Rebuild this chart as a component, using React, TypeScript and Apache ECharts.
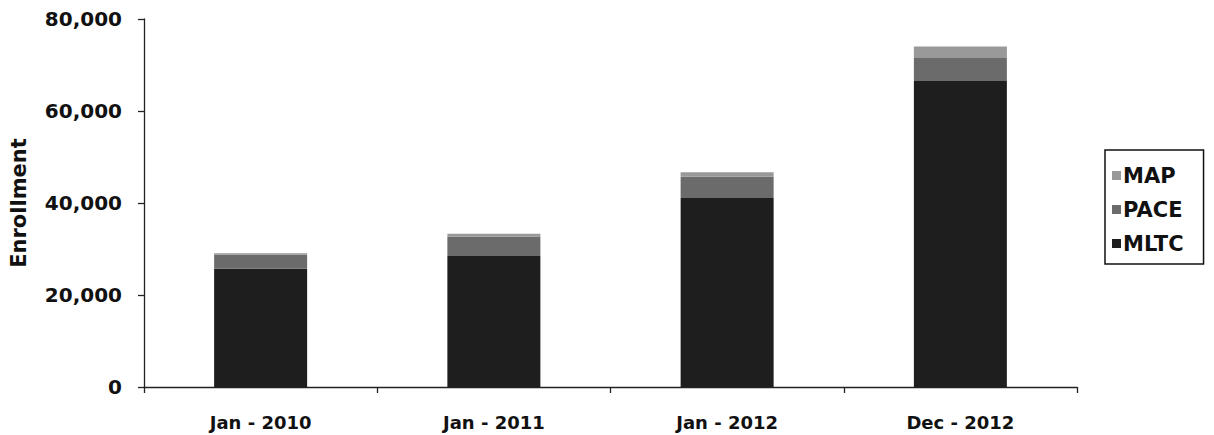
import React, { useEffect, useRef } from "react";
import * as echarts from "echarts";

const categories = ["Jan - 2010", "Jan - 2011", "Jan - 2012", "Dec - 2012"];
const mltc = [25700, 28500, 41100, 66500];
const pace = [3100, 4200, 4600, 5000];
const map = [300, 600, 1000, 2500];
const yTicks = [0, 20000, 40000, 60000, 80000];

const FONT = "DejaVu Sans";

export default function App() {
  const ref = useRef<HTMLDivElement>(null);
  useEffect(() => {
    if (!ref.current) return;
    const chart = echarts.init(ref.current, undefined, { renderer: "svg" });
    chart.setOption({
      animation: false,
      backgroundColor: "#ffffff",
      grid: { left: 144, right: 137, top: 19, bottom: 48 },
      legend: {
        data: ["MAP", "PACE", "MLTC"],
        orient: "vertical",
        left: 1105,
        top: 150,
        padding: [15, 20, 10, 7],
        itemGap: 13,
        itemWidth: 9,
        itemHeight: 9,
        borderColor: "#111",
        borderWidth: 1.5,
        icon: "rect",
        textStyle: { fontFamily: FONT, fontWeight: "bold", fontSize: 21, color: "#111", padding: [0, 0, 0, -3] },
      },
      xAxis: {
        type: "category",
        data: categories,
        axisLine: { lineStyle: { color: "#222", width: 1.3 } },
        axisTick: { show: true, length: 6, lineStyle: { color: "#222", width: 1.3 } },
        axisLabel: { fontFamily: FONT, fontWeight: "bold", fontSize: 18, color: "#111", margin: 26 },
      },
      yAxis: {
        type: "value",
        min: yTicks[0],
        max: yTicks[yTicks.length - 1],
        interval: yTicks[1] - yTicks[0],
        name: "Enrollment",
        nameLocation: "middle",
        nameGap: 115,
        nameTextStyle: { fontFamily: FONT, fontWeight: "bold", fontSize: 21, color: "#111" },
        axisLine: { show: true, lineStyle: { color: "#222", width: 1.3 } },
        axisTick: { show: true, length: 6, lineStyle: { color: "#222", width: 1.3 } },
        splitLine: { show: false },
        axisLabel: {
          fontFamily: FONT,
          fontWeight: "bold",
          fontSize: 20,
          color: "#111",
          margin: 22,
          formatter: (v: number) => v.toLocaleString("en-US"),
        },
      },
      series: [
        { name: "MLTC", type: "bar", stack: "t", data: mltc, barWidth: 93, itemStyle: { color: "#1e1e1e" } },
        { name: "PACE", type: "bar", stack: "t", data: pace, barWidth: 93, itemStyle: { color: "#6b6b6b" } },
        { name: "MAP", type: "bar", stack: "t", data: map, barWidth: 93, itemStyle: { color: "#999999" } },
      ],
    });
    return () => chart.dispose();
  }, []);
  return <div ref={ref} style={{ position: "absolute", left: 0, top: 0, width: 1214, height: 435 }} />;
}
